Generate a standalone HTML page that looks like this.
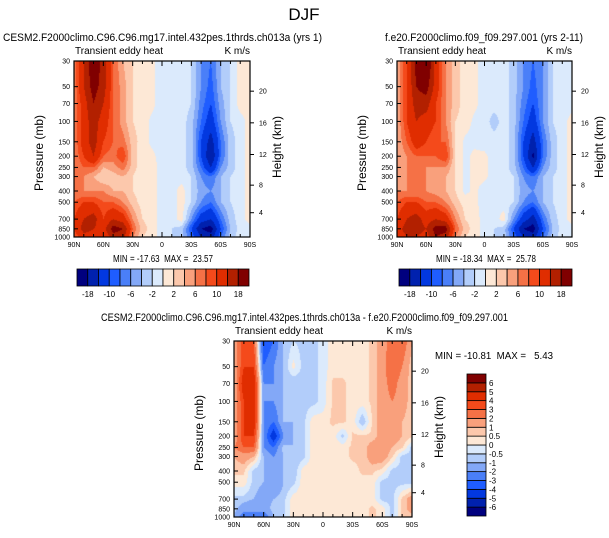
<!DOCTYPE html>
<html><head><meta charset="utf-8">
<style>
body{margin:0;background:#fff;width:609px;height:538px;overflow:hidden;position:relative;font-family:"Liberation Sans",sans-serif}
canvas{position:absolute}
svg{position:absolute;left:0;top:0}
svg text{white-space:pre}
</style></head>
<body>
<canvas id="c1" width="176" height="176" style="left:74px;top:61px"></canvas>
<canvas id="c2" width="175" height="176" style="left:397px;top:61px"></canvas>
<canvas id="c3" width="178" height="176" style="left:234px;top:341px"></canvas>
<svg id="ov" width="609" height="538"></svg>
<script>
const levels=[30,50,70,100,150,200,250,300,400,500,700,850,1000];
const lats=[90,80,70,60,50,40,30,20,10,0,-10,-20,-30,-40,-50,-60,-70,-80,-90];
const latTicks=["90N","60N","30N","0","30S","60S","90S"];
const kmTicks=[4,8,12,16,20];
const bndsTop=[-18,-14,-10,-8,-6,-4,-2,0,2,4,6,8,10,14,18];
const bndsDiff=[-6,-5,-4,-3,-2,-1,-0.5,0,0.5,1,2,3,4,5,6];
const cbTopLabels=["-18","-10","-6","-2","2","6","10","18"];
const palette=["#00007f","#0021ae","#0238e0","#1f5dff","#4a7ff8","#83a8f7","#b2cdfa","#dbeafc","#fde8d6","#fcc8ac","#f9a07c","#f57146","#f44a1b","#e02d00","#b22000","#800000"];
const ctrl=[
[6,14,22,16,8,4,2,1,0.5,-1,-1,-1,-2,-6,-8,-4,-2,1,1],
[6,14,20,16,8,5,2,1,0.5,-1,-1,-1,-2,-6,-9,-4,-2,1,1],
[6,12,18,14,8,5,2,1,0.5,-1,-1,-1,-2,-7,-10,-5,-2,1,1],
[6,12,16,12,8,5,2,1,-0.5,-1,-1,-1,-3,-8,-12,-6,-2,-1,1],
[6,12,16,10,8,7,3,1,-0.5,-1,-1,-1,-3,-10,-16,-8,-3,-1,1],
[6,10,14,8,7,10,3,0.5,0.5,-1,-1,-1,-3,-10,-18,-8,-3,-1,1],
[6,8,8,4,5,7,3,0.5,1,-1,-1,-1,-3,-8,-14,-6,-3,-1,1],
[6,6,4,2,3,4,2,0.5,1,-1,-1,-1,-2,-6,-8,-4,-2,-1,1],
[6,6,6,6,4,4,2,1,1,-1,-1,1,-2,-5,-6,-4,-2,-1,1],
[8,10,10,8,8,6,3,1,1,-1,-1,1,-2,-6,-8,-4,-2,-1,1],
[10,14,16,10,14,12,6,2,1,-1,-1,1,-6,-12,-14,-8,-3,-1,1],
[10,16,14,12,20,18,8,3,1,-1,-2,-3,-10,-18,-20,-10,-4,-1,-1],
[8,12,12,10,16,16,6,2,1,-1,-2,-3,-8,-14,-16,-8,-3,-1,-1]];
const test=[
[4,10,20,24,12,6,3,1,0.5,-1,-1,-1,-3,-6,-8,-6,-2,-1,-1],
[4,10,18,20,12,6,3,1,0.5,-1,-1,-1,-3,-6,-9,-6,-2,-1,-1],
[4,10,16,16,10,6,3,1,0.5,-1,-1,-1,-3,-7,-10,-6,-2,-1,-1],
[4,10,14,12,10,6,2,1,-0.5,-1,-3,-1,-3,-8,-12,-6,-2,-1,1],
[4,8,12,10,8,8,2,-0.5,-0.5,-1,-1,-1,-3,-10,-16,-8,-3,-1,1],
[4,6,8,8,8,10,2,-0.5,0.5,0.5,-1,-1,-3,-10,-19,-8,-3,-1,1],
[4,6,6,6,6,6,2,-0.5,0.5,0.5,-1,-1,-3,-8,-14,-6,-3,-1,1],
[4,6,6,6,4,4,2,-0.5,0.5,0.5,-1,-1,-2,-6,-8,-4,-2,-1,1],
[6,6,6,6,5,4,2,-0.5,0.5,-1,-1,-1,-2,-5,-6,-4,-2,-1,1],
[8,10,10,8,8,6,3,1,0.5,-1,-1,-1,-2,-6,-8,-4,-2,-1,1],
[10,14,16,12,14,12,6,2,1,-1,-1,1,-6,-12,-16,-8,-3,-1,1],
[12,16,16,14,20,20,8,3,1,-1,-2,-3,-10,-18,-20,-10,-4,-1,-1],
[10,14,14,12,18,16,6,2,1,-1,-2,-3,-8,-14,-16,-8,-3,-1,-1]];
const diff=[
[1,4,3,-4,-3,-1,-0.5,-0.7,-0.7,-0.3,0.3,0.3,0.3,0.3,0.6,1.5,2.5,3,1],
[1,4,4,-3,-2,-1,0.2,-0.7,-0.7,-0.3,0.3,0.3,0.3,0.3,0.6,1.5,3,2,0.6],
[1,5,5,-2,-2,-1,-1,-0.7,-0.7,-0.3,0.6,0.6,0.3,0.3,0.6,1.5,2.5,1.5,0.6],
[1,4,5,-2,-2,-1,-1,-0.7,-0.7,-0.3,0.6,0.6,0.3,0.3,0.6,1.5,2,1.5,0.6],
[1,4,5,-2,-3,-1,-1,-0.7,0.3,0.3,0.6,0.6,0.3,-1,0.6,1.5,1.5,1,0.6],
[1,4,4,-2,-5,-2,-1,-0.7,0.3,0.3,0.3,-0.7,0.6,0.6,0.6,1.5,1.5,1,0.6],
[2,3,3,-2,-3,-0.7,-1,-0.7,0.3,0.3,0.3,0.3,0.6,0.6,1.5,1.5,1,0.6,-0.7],
[1,1.5,1,-1,-2,-1,-1,-0.7,0.3,0.3,0.3,0.3,0.6,0.6,1.5,1.5,0.6,-0.7,-0.7],
[0.6,0.6,-0.7,-1,-2,-1,-1,0.3,0.3,0.3,0.3,0.3,0.3,0.6,0.6,0.3,-0.7,-0.7,-0.7],
[0.3,0.3,-0.7,-1,-2,-1,-0.7,0.3,0.3,0.3,0.3,0.3,0.3,0.3,0.3,-0.7,-0.7,-0.7,-0.7],
[-0.7,-0.7,-1,-1.5,-1,-0.7,0.3,0.3,0.3,0.3,0.3,0.3,0.3,0.3,0.3,-0.7,-0.7,0.6,1.5],
[-0.7,-1.5,-2,-1.5,-0.7,-0.7,0.3,0.3,0.3,0.3,0.3,0.3,0.3,0.3,0.6,0.3,-0.7,0.6,1.5],
[-1,-3,-2,-3,-1,-0.7,0.3,0.3,0.3,0.3,0.3,0.3,0.3,0.3,0.6,0.3,-0.7,0.6,0.6]];

const NS="http://www.w3.org/2000/svg";
const ov=document.getElementById('ov');
function el(tag,attrs,txt){const e=document.createElementNS(NS,tag);for(const k in attrs)e.setAttribute(k,attrs[k]);if(txt!==undefined)e.textContent=txt;ov.appendChild(e);return e;}
function colorIdx(v,b){let i=0;while(i<b.length&&v>=b[i])i++;return i;}
function hex(h){return [parseInt(h.substr(1,2),16),parseInt(h.substr(3,2),16),parseInt(h.substr(5,2),16)];}
const rgb=palette.map(hex);
const L0=Math.log(30),L1=Math.log(1000);
function yFrac(p){return (Math.log(p)-L0)/(L1-L0);}
function latFrac(lat){return (90-lat)/180;}
function kmToP(z){return z<=11?1013.25*Math.pow(1-z/44.33,5.256):226.3*Math.exp(-(z-11)/6.34);}

function drawField(id,grid,b){
  const c=document.getElementById(id),ctx=c.getContext('2d'),W=c.width,H=c.height;
  const img=ctx.createImageData(W,H);
  const rowF=levels.map(yFrac);
  for(let py=0;py<H;py++){
    const f=(py+0.5)/H;let r=0;while(r<levels.length-2&&rowF[r+1]<f)r++;
    const t=Math.min(1,Math.max(0,(f-rowF[r])/(rowF[r+1]-rowF[r])));
    for(let px=0;px<W;px++){
      const gx=(px+0.5)/W*(lats.length-1);const ci=Math.min(lats.length-2,Math.floor(gx));const s=gx-ci;
      const v=(grid[r][ci]*(1-s)+grid[r][ci+1]*s)*(1-t)+(grid[r+1][ci]*(1-s)+grid[r+1][ci+1]*s)*t;
      const col=rgb[colorIdx(v,b)];const k=(py*W+px)*4;
      img.data[k]=col[0];img.data[k+1]=col[1];img.data[k+2]=col[2];img.data[k+3]=255;
    }
  }
  ctx.putImageData(img,0,0);
}

function axes(x0,y0,W,H,title,tw,tx,minmax,mmx,mmy,mmw){
  el('text',{x:tx,y:y0-20,'font-size':11,textLength:tw,lengthAdjust:'spacingAndGlyphs',},title);
  el('text',{x:x0+1,y:y0-7,'font-size':10,},'Transient eddy heat');
  el('text',{x:x0+W,y:y0-7,'font-size':10,'text-anchor':'end',},'K m/s');
  el('rect',{x:x0,y:y0,width:W,height:H,fill:'none',stroke:'#000','stroke-width':1.2,});
  levels.forEach(p=>{const y=y0+yFrac(p)*H;
    el('line',{x1:x0,x2:x0+4,y1:y,y2:y,stroke:'#000',});
    el('text',{x:x0-4,y:y+2.5,'font-size':7,'text-anchor':'end',},String(p));});
  for(let lat=90;lat>=-90;lat-=10){const x=x0+latFrac(lat)*W;const maj=lat%30===0;
    el('line',{x1:x,x2:x,y1:y0+H,y2:y0+H-(maj?5:3),stroke:'#000',});
    el('line',{x1:x,x2:x,y1:y0,y2:y0+(maj?5:3),stroke:'#000',});}
  latTicks.forEach((t,i)=>{const x=x0+i/6*W;
    el('text',{x:x,y:y0+H+10,'font-size':7,'text-anchor':'middle',},t);});
  kmTicks.forEach(z=>{const y=y0+yFrac(kmToP(z))*H;
    el('line',{x1:x0+W,x2:x0+W+4,y1:y,y2:y,stroke:'#000',});
    el('text',{x:x0+W+9,y:y+2.5,'font-size':7,},String(z));});
  el('text',{x:0,y:0,'font-size':12,'text-anchor':'middle',transform:`translate(${x0-31},${y0+H/2+4}) rotate(-90)`,},'Pressure (mb)');
  el('text',{x:0,y:0,'font-size':12,'text-anchor':'middle',transform:`translate(${x0+W+31},${y0+H/2-2}) rotate(-90)`,},'Height (km)');
  el('text',{x:mmx,y:mmy,'font-size':10,textLength:mmw,lengthAdjust:'spacingAndGlyphs',},minmax);
}

function hbar(x0,y0,W,H){
  const n=palette.length,w=W/n;
  palette.forEach((c,i)=>el('rect',{x:x0+i*w,y:y0,width:w,height:H,fill:c,stroke:'#000','stroke-width':0.8,}));
  cbTopLabels.forEach((t,i)=>el('text',{x:x0+(2*i+1)*w,y:y0+H+11,'font-size':8,'text-anchor':'middle',},t));
}
function vbar(x0,y0,W,H){
  const n=palette.length,h=H/n;
  palette.forEach((c,i)=>el('rect',{x:x0,y:y0+(n-1-i)*h,width:W,height:h,fill:c,stroke:'#000','stroke-width':0.8,}));
  bndsDiff.forEach((b,i)=>el('text',{x:x0+W+3,y:y0+(n-1-i)*h+3,'font-size':8,},String(b)));
}

drawField('c1',ctrl,bndsTop);
drawField('c2',test,bndsTop);
drawField('c3',diff,bndsDiff);
el('text',{x:304,y:20,'font-size':17,'text-anchor':'middle',},'DJF');
axes(74,61,176,176,'CESM2.F2000climo.C96.C96.mg17.intel.432pes.1thrds.ch013a (yrs 1)',319,3,'MIN = -17.63  MAX =  23.57',113,262,100);
axes(397,61,175,176,'f.e20.F2000climo.f09_f09.297.001 (yrs 2-11)',198,385,'MIN = -18.34  MAX =  25.78',436,262,100);
axes(234,341,178,176,'CESM2.F2000climo.C96.C96.mg17.intel.432pes.1thrds.ch013a - f.e20.F2000climo.f09_f09.297.001',407,101,'MIN = -10.81  MAX =   5.43',435,359,118);
hbar(77,269,172,17);
hbar(399,269,173,17);
vbar(467,374,19,142);
</script>
</body></html>
